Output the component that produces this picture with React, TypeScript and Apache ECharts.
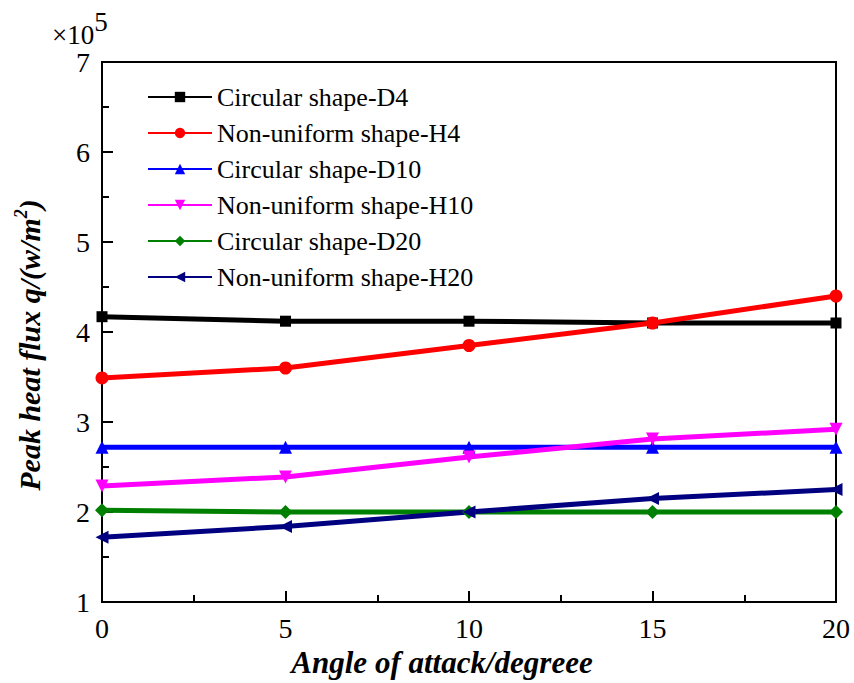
import React, { useEffect, useRef } from "react";
import * as echarts from "echarts";

const angles = [0, 5, 10, 15, 20];
const seriesNames = [
  "Circular shape-D4",
  "Non-uniform shape-H4",
  "Circular shape-D10",
  "Non-uniform shape-H10",
  "Circular shape-D20",
  "Non-uniform shape-H20",
];
const d4 = [4.17, 4.12, 4.12, 4.1, 4.1];
const h4 = [3.49, 3.6, 3.85, 4.1, 4.4];
const d10 = [2.72, 2.72, 2.72, 2.72, 2.72];
const h10 = [2.29, 2.39, 2.61, 2.81, 2.92];
const d20 = [2.02, 2.0, 2.0, 2.0, 2.0];
const h20 = [1.72, 1.84, 2.0, 2.15, 2.25];
const colors = ["#000000", "#ff0000", "#0000ff", "#ff00ff", "#008000", "#000080"];
const symbols = ["rect", "circle", "triangle", "triangle", "diamond", "triangle"];
const rotations = [0, 0, 0, 180, 0, 90];

const FONT = '"Liberation Serif", "Times New Roman", serif';

export default function App() {
  const ref = useRef<HTMLDivElement>(null);
  useEffect(() => {
    if (!ref.current) return;
    const chart = echarts.init(ref.current, undefined, { renderer: "svg" });
    const all = [d4, h4, d10, h10, d20, h20];
    const series = all.map((vals, i) => ({
      name: seriesNames[i],
      type: "line",
      data: vals.map((v, j) => [angles[j], v]),
      symbol: symbols[i],
      symbolRotate: rotations[i],
      symbolSize: i === 0 ? 11 : i === 4 ? 14 : 13,
      lineStyle: { color: colors[i], width: 5 },
      itemStyle: { color: colors[i] },
      emphasis: { disabled: true },
      clip: true,
    }));
    chart.setOption({
      animation: false,
      backgroundColor: "#ffffff",
      grid: {
        left: 102,
        top: 62,
        right: 18,
        bottom: 81,
        outerBoundsMode: "none",
        containLabel: false,
        show: true,
        borderColor: "#000",
        borderWidth: 2,
      },
      legend: {
        orient: "vertical",
        left: 142,
        top: 79,
        itemWidth: 64,
        itemHeight: 13,
        itemGap: 10,
        textStyle: { fontFamily: FONT, fontSize: 26, color: "#000", lineHeight: 24 },
        data: seriesNames,
      },
      xAxis: {
        type: "value",
        min: 0,
        max: 20,
        interval: 5,
        name: "Angle of attack/degreee",
        nameLocation: "middle",
        nameGap: 45,
        nameTextStyle: {
          fontFamily: FONT,
          fontSize: 31,
          fontWeight: "bold",
          fontStyle: "italic",
          color: "#000",
          padding: [0, 54, 0, 0],
        },
        axisLine: { lineStyle: { color: "#000", width: 2 } },
        axisTick: { inside: true, length: 11, lineStyle: { color: "#000", width: 2 } },
        minorTick: { show: true, splitNumber: 2, length: 7, lineStyle: { color: "#000", width: 2 } },
        splitLine: { show: false },
        axisLabel: { fontFamily: FONT, fontSize: 28, color: "#000", margin: 12 },
      },
      yAxis: {
        type: "value",
        min: 1,
        max: 7,
        interval: 1,
        name: "Peak heat flux q/(w/m{sup|2})",
        nameLocation: "middle",
        nameGap: 56,
        nameRotate: 90,
        nameTextStyle: {
          fontFamily: FONT,
          fontSize: 30,
          fontWeight: "bold",
          fontStyle: "italic",
          color: "#000",
          padding: [0, 26, 0, 0],
          rich: {
            sup: {
              fontFamily: FONT,
              fontSize: 18,
              fontWeight: "bold",
              fontStyle: "italic",
              color: "#000",
              padding: [0, 0, 16, 0],
            },
          },
        },
        axisLine: { lineStyle: { color: "#000", width: 2 } },
        axisTick: { inside: true, length: 11, lineStyle: { color: "#000", width: 2 } },
        minorTick: { show: true, splitNumber: 2, length: 7, lineStyle: { color: "#000", width: 2 } },
        splitLine: { show: false },
        axisLabel: { fontFamily: FONT, fontSize: 28, color: "#000", margin: 12 },
      },
      graphic: [
        {
          type: "text",
          left: 52,
          top: 8,
          style: {
            text: "×10{sup|5}",
            fontFamily: FONT,
            fontSize: 27,
            fill: "#000",
            rich: {
              sup: { fontFamily: FONT, fontSize: 27, fill: "#000", padding: [0, 0, 26, 0] },
            },
          },
        },
      ],
      series,
    });
    return () => chart.dispose();
  }, []);
  return (
    <div
      ref={ref}
      style={{ position: "absolute", left: 0, top: 0, width: 854, height: 683 }}
    />
  );
}
